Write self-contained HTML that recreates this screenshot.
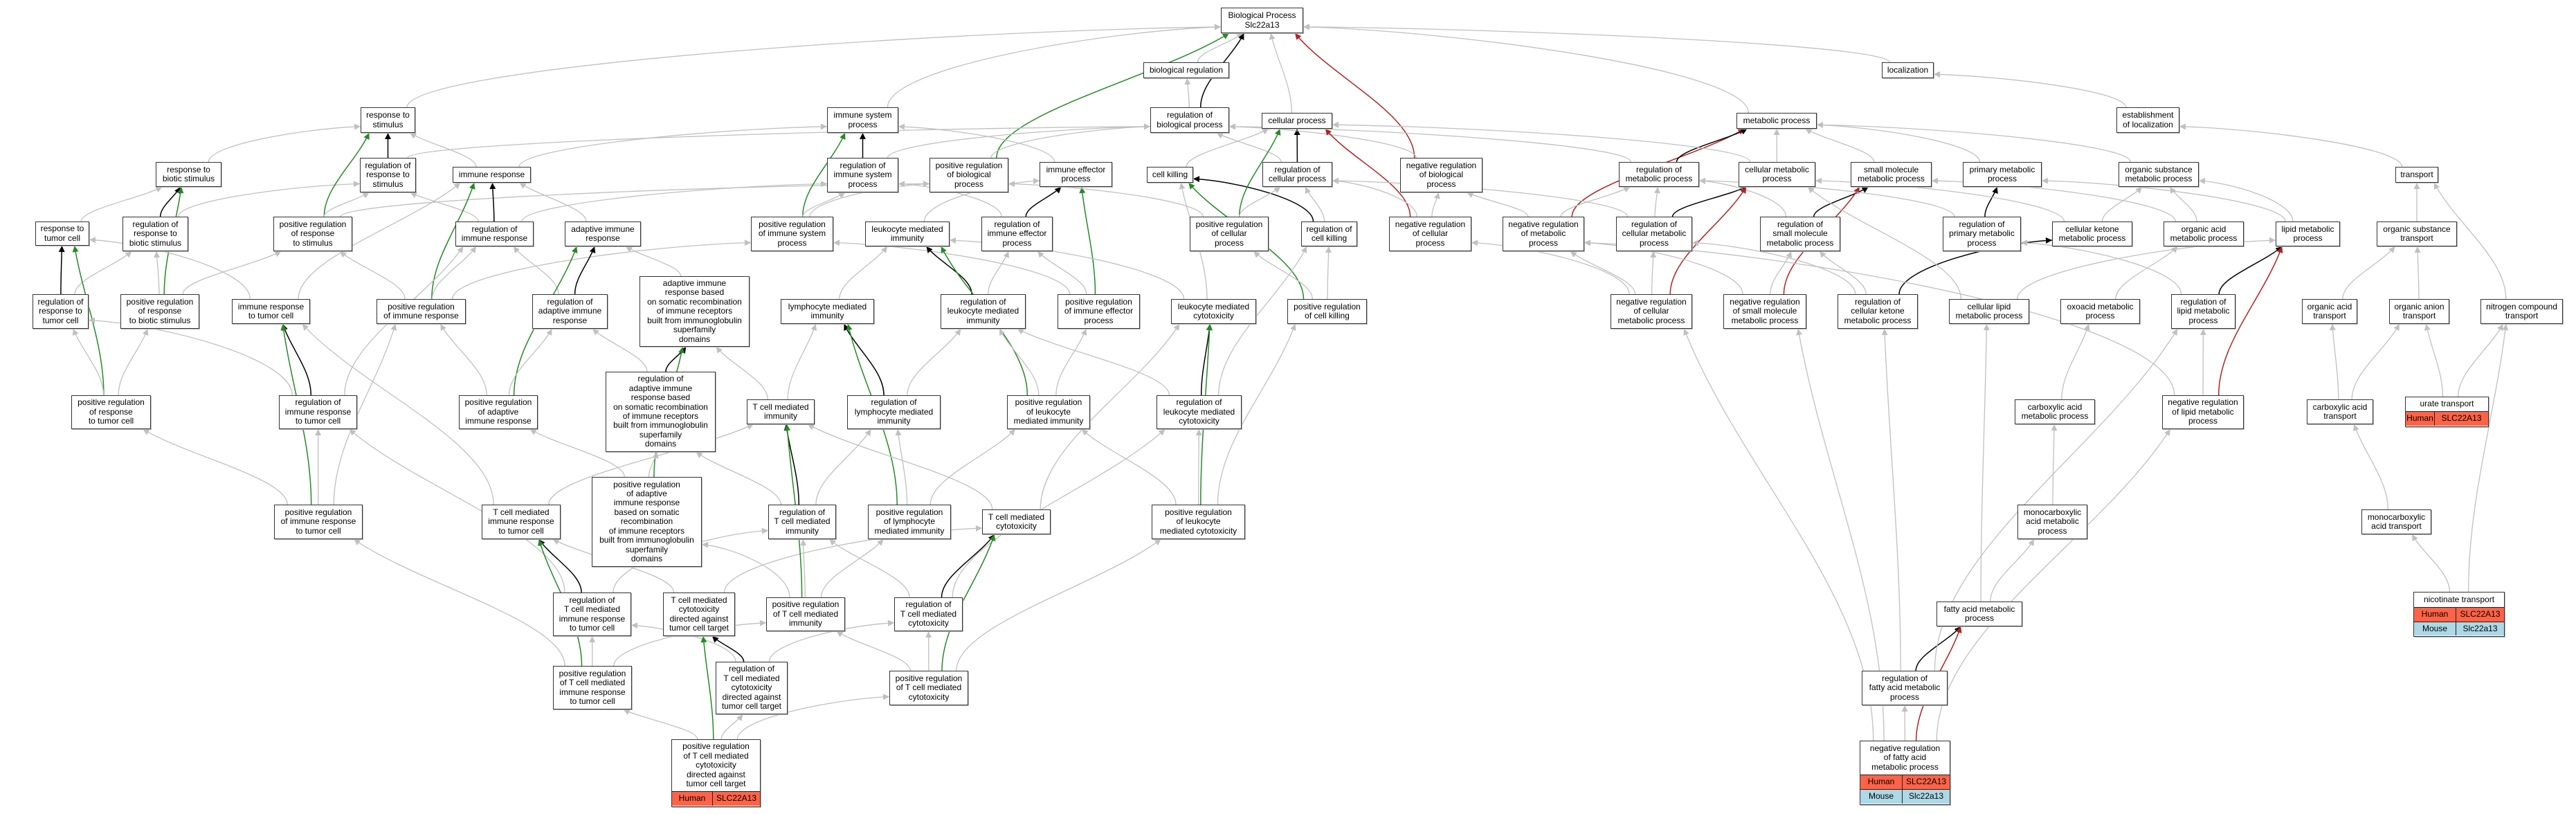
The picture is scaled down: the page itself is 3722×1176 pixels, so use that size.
<!DOCTYPE html>
<html><head><meta charset="utf-8">
<style>
html,body{margin:0;padding:0;background:#fff;}
#wrap{position:relative;width:3722px;height:1176px;overflow:hidden;background:#fff;}
svg{position:absolute;left:0;top:0;}
.n{position:absolute;box-sizing:border-box;border:1.6px solid #333;background:#fff;display:flex;align-items:center;justify-content:center;text-align:center;font-family:"Liberation Sans",Arial,sans-serif;font-size:12px;line-height:13.4px;color:#000;box-shadow:1px 1px 0 #bbb;z-index:2;}
.g{display:block;}
.g .t{display:flex;align-items:center;justify-content:center;}
.g .r{display:flex;border-top:1.6px solid #222;box-sizing:border-box;}
.g .r span{display:flex;align-items:center;justify-content:center;}
.g .r span:first-child{border-right:1.6px solid #222;}
.h{background:#ff6347;}
.m{background:#add8e6;}
</style></head><body><div id="wrap">
<svg id="sv" width="3722" height="1176" xmlns="http://www.w3.org/2000/svg">
<defs>
<marker id="a_g" viewBox="0 0 10 10" refX="10" refY="5" markerWidth="12" markerHeight="9" markerUnits="userSpaceOnUse" orient="auto"><path d="M0,0L10,5L0,10z" fill="#c0c0c0"/></marker>
<marker id="a_k" viewBox="0 0 10 10" refX="10" refY="5" markerWidth="12" markerHeight="9" markerUnits="userSpaceOnUse" orient="auto"><path d="M0,0L10,5L0,10z" fill="#000"/></marker>
<marker id="a_v" viewBox="0 0 10 10" refX="10" refY="5" markerWidth="12" markerHeight="9" markerUnits="userSpaceOnUse" orient="auto"><path d="M0,0L10,5L0,10z" fill="#228b22"/></marker>
<marker id="a_r" viewBox="0 0 10 10" refX="10" refY="5" markerWidth="12" markerHeight="9" markerUnits="userSpaceOnUse" orient="auto"><path d="M0,0L10,5L0,10z" fill="#b22222"/></marker>
</defs>
<g id="eg"></g>
</svg>

<div class="n" id="BP" style="left:1764px;top:11px;width:119px;height:37px">Biological Process<br>Slc22a13</div>
<div class="n" id="bioreg" style="left:1652px;top:90px;width:124px;height:23px">biological regulation</div>
<div class="n" id="loc" style="left:2719px;top:90px;width:75px;height:23px">localization</div>
<div class="n" id="rstim" style="left:521px;top:155px;width:79px;height:37px">response to<br>stimulus</div>
<div class="n" id="isp" style="left:1195px;top:155px;width:103px;height:37px">immune system<br>process</div>
<div class="n" id="rbp" style="left:1662px;top:155px;width:114px;height:37px">regulation of<br>biological process</div>
<div class="n" id="cp" style="left:1823px;top:163px;width:102px;height:23px">cellular process</div>
<div class="n" id="mp" style="left:2509px;top:163px;width:116px;height:23px">metabolic process</div>
<div class="n" id="estloc" style="left:3058px;top:155px;width:91px;height:37px">establishment<br>of localization</div>
<div class="n" id="rbio" style="left:225px;top:234px;width:95px;height:36px">response to<br>biotic stimulus</div>
<div class="n" id="rrs" style="left:520px;top:228px;width:81px;height:50px">regulation of<br>response to<br>stimulus</div>
<div class="n" id="ir" style="left:654px;top:241px;width:113px;height:23px">immune response</div>
<div class="n" id="risp" style="left:1195px;top:228px;width:103px;height:50px">regulation of<br>immune system<br>process</div>
<div class="n" id="prbp" style="left:1343px;top:228px;width:114px;height:50px">positive regulation<br>of biological<br>process</div>
<div class="n" id="iep" style="left:1502px;top:234px;width:105px;height:36px">immune effector<br>process</div>
<div class="n" id="ck" style="left:1657px;top:241px;width:67px;height:23px">cell killing</div>
<div class="n" id="rcp" style="left:1824px;top:234px;width:101px;height:36px">regulation of<br>cellular process</div>
<div class="n" id="nrbp" style="left:2023px;top:228px;width:119px;height:50px">negative regulation<br>of biological<br>process</div>
<div class="n" id="rmp" style="left:2339px;top:234px;width:116px;height:36px">regulation of<br>metabolic process</div>
<div class="n" id="cmp" style="left:2512px;top:234px;width:111px;height:36px">cellular metabolic<br>process</div>
<div class="n" id="smmp" style="left:2674px;top:234px;width:117px;height:36px">small molecule<br>metabolic process</div>
<div class="n" id="pmp" style="left:2836px;top:234px;width:114px;height:36px">primary metabolic<br>process</div>
<div class="n" id="osmp" style="left:3061px;top:234px;width:116px;height:36px">organic substance<br>metabolic process</div>
<div class="n" id="trans" style="left:3461px;top:241px;width:62px;height:23px">transport</div>
<div class="n" id="rtc" style="left:51px;top:320px;width:78px;height:35px">response to<br>tumor cell</div>
<div class="n" id="rrbs" style="left:177px;top:313px;width:95px;height:50px">regulation of<br>response to<br>biotic stimulus</div>
<div class="n" id="prrs" style="left:395px;top:313px;width:114px;height:50px">positive regulation<br>of response<br>to stimulus</div>
<div class="n" id="rir" style="left:658px;top:320px;width:113px;height:36px">regulation of<br>immune response</div>
<div class="n" id="air" style="left:816px;top:320px;width:110px;height:36px">adaptive immune<br>response</div>
<div class="n" id="prisp" style="left:1085px;top:313px;width:119px;height:50px">positive regulation<br>of immune system<br>process</div>
<div class="n" id="lmi" style="left:1250px;top:320px;width:122px;height:36px">leukocyte mediated<br>immunity</div>
<div class="n" id="riep" style="left:1418px;top:313px;width:103px;height:50px">regulation of<br>immune effector<br>process</div>
<div class="n" id="prcp" style="left:1719px;top:313px;width:114px;height:50px">positive regulation<br>of cellular<br>process</div>
<div class="n" id="rck" style="left:1880px;top:320px;width:81px;height:36px">regulation of<br>cell killing</div>
<div class="n" id="nrcp" style="left:2007px;top:313px;width:119px;height:50px">negative regulation<br>of cellular<br>process</div>
<div class="n" id="nrmp" style="left:2171px;top:313px;width:118px;height:50px">negative regulation<br>of metabolic<br>process</div>
<div class="n" id="rcmp" style="left:2335px;top:313px;width:110px;height:50px">regulation of<br>cellular metabolic<br>process</div>
<div class="n" id="rsmmp" style="left:2543px;top:313px;width:116px;height:50px">regulation of<br>small molecule<br>metabolic process</div>
<div class="n" id="rpmp" style="left:2807px;top:313px;width:113px;height:50px">regulation of<br>primary metabolic<br>process</div>
<div class="n" id="ckmp" style="left:2965px;top:320px;width:116px;height:36px">cellular ketone<br>metabolic process</div>
<div class="n" id="oamp" style="left:3126px;top:320px;width:116px;height:36px">organic acid<br>metabolic process</div>
<div class="n" id="lipmp" style="left:3288px;top:320px;width:93px;height:36px">lipid metabolic<br>process</div>
<div class="n" id="ost" style="left:3434px;top:320px;width:116px;height:36px">organic substance<br>transport</div>
<div class="n" id="rrtc" style="left:47px;top:425px;width:81px;height:50px">regulation of<br>response to<br>tumor cell</div>
<div class="n" id="prrbs" style="left:174px;top:425px;width:114px;height:50px">positive regulation<br>of response<br>to biotic stimulus</div>
<div class="n" id="irtc" style="left:335px;top:432px;width:113px;height:36px">immune response<br>to tumor cell</div>
<div class="n" id="prir" style="left:544px;top:432px;width:129px;height:36px">positive regulation<br>of immune response</div>
<div class="n" id="rair" style="left:769px;top:425px;width:109px;height:50px">regulation of<br>adaptive immune<br>response</div>
<div class="n" id="airb" style="left:924px;top:399px;width:159px;height:102px">adaptive immune<br>response based<br>on somatic recombination<br>of immune receptors<br>built from immunoglobulin<br>superfamily<br>domains</div>
<div class="n" id="lymi" style="left:1128px;top:432px;width:135px;height:36px">lymphocyte mediated<br>immunity</div>
<div class="n" id="rlmi" style="left:1359px;top:425px;width:123px;height:50px">regulation of<br>leukocyte mediated<br>immunity</div>
<div class="n" id="prie" style="left:1528px;top:425px;width:119px;height:50px">positive regulation<br>of immune effector<br>process</div>
<div class="n" id="lmc" style="left:1692px;top:432px;width:123px;height:36px">leukocyte mediated<br>cytotoxicity</div>
<div class="n" id="prck" style="left:1860px;top:432px;width:115px;height:36px">positive regulation<br>of cell killing</div>
<div class="n" id="nrcmp" style="left:2327px;top:425px;width:118px;height:50px">negative regulation<br>of cellular<br>metabolic process</div>
<div class="n" id="nrsmmp" style="left:2490px;top:425px;width:120px;height:50px">negative regulation<br>of small molecule<br>metabolic process</div>
<div class="n" id="rckmp" style="left:2655px;top:425px;width:116px;height:50px">regulation of<br>cellular ketone<br>metabolic process</div>
<div class="n" id="clmp" style="left:2816px;top:432px;width:116px;height:36px">cellular lipid<br>metabolic process</div>
<div class="n" id="oxmp" style="left:2977px;top:432px;width:115px;height:36px">oxoacid metabolic<br>process</div>
<div class="n" id="rlipmp" style="left:3137px;top:425px;width:93px;height:50px">regulation of<br>lipid metabolic<br>process</div>
<div class="n" id="oat" style="left:3326px;top:432px;width:80px;height:36px">organic acid<br>transport</div>
<div class="n" id="oant" style="left:3452px;top:432px;width:87px;height:36px">organic anion<br>transport</div>
<div class="n" id="nct" style="left:3584px;top:432px;width:119px;height:36px">nitrogen compound<br>transport</div>
<div class="n" id="rairb" style="left:875px;top:537px;width:159px;height:116px">regulation of<br>adaptive immune<br>response based<br>on somatic recombination<br>of immune receptors<br>built from immunoglobulin<br>superfamily<br>domains</div>
<div class="n" id="prrtc" style="left:103px;top:571px;width:115px;height:49px">positive regulation<br>of response<br>to tumor cell</div>
<div class="n" id="rirtc" style="left:403px;top:571px;width:113px;height:49px">regulation of<br>immune response<br>to tumor cell</div>
<div class="n" id="prair" style="left:663px;top:571px;width:114px;height:49px">positive regulation<br>of adaptive<br>immune response</div>
<div class="n" id="tcmi" style="left:1079px;top:577px;width:98px;height:36px">T cell mediated<br>immunity</div>
<div class="n" id="rlymi" style="left:1224px;top:571px;width:135px;height:49px">regulation of<br>lymphocyte mediated<br>immunity</div>
<div class="n" id="prlmi" style="left:1455px;top:571px;width:120px;height:49px">positive regulation<br>of leukocyte<br>mediated immunity</div>
<div class="n" id="rlmc" style="left:1671px;top:571px;width:123px;height:49px">regulation of<br>leukocyte mediated<br>cytotoxicity</div>
<div class="n" id="camp" style="left:2911px;top:577px;width:116px;height:36px">carboxylic acid<br>metabolic process</div>
<div class="n" id="nrlipmp" style="left:3124px;top:571px;width:118px;height:49px">negative regulation<br>of lipid metabolic<br>process</div>
<div class="n" id="cat" style="left:3333px;top:577px;width:96px;height:36px">carboxylic acid<br>transport</div>
<div class="n g" id="urate" style="left:3475px;top:573px;width:121px;height:44px"><div class="t" style="height:20px">urate transport</div><div class="r h" style="height:21px"><span style="width:41px">Human</span><span style="flex:1">SLC22A13</span></div></div>
<div class="n" id="prairb" style="left:855px;top:689px;width:159px;height:130px">positive regulation<br>of adaptive<br>immune response<br>based on somatic<br>recombination<br>of immune receptors<br>built from immunoglobulin<br>superfamily<br>domains</div>
<div class="n" id="prirtc" style="left:396px;top:729px;width:128px;height:50px">positive regulation<br>of immune response<br>to tumor cell</div>
<div class="n" id="tcmirtc" style="left:696px;top:729px;width:114px;height:50px">T cell mediated<br>immune response<br>to tumor cell</div>
<div class="n" id="rtcmi" style="left:1110px;top:729px;width:98px;height:50px">regulation of<br>T cell mediated<br>immunity</div>
<div class="n" id="prlymi" style="left:1254px;top:729px;width:120px;height:50px">positive regulation<br>of lymphocyte<br>mediated immunity</div>
<div class="n" id="tcmc" style="left:1419px;top:736px;width:99px;height:36px">T cell mediated<br>cytotoxicity</div>
<div class="n" id="prlmc" style="left:1664px;top:729px;width:135px;height:50px">positive regulation<br>of leukocyte<br>mediated cytotoxicity</div>
<div class="n" id="mcamp" style="left:2915px;top:729px;width:101px;height:50px">monocarboxylic<br>acid metabolic<br>process</div>
<div class="n" id="mcat" style="left:3412px;top:736px;width:101px;height:36px">monocarboxylic<br>acid transport</div>
<div class="n" id="rtcmirtc" style="left:799px;top:856px;width:113px;height:63px">regulation of<br>T cell mediated<br>immune response<br>to tumor cell</div>
<div class="n" id="tcmcd" style="left:958px;top:856px;width:104px;height:63px">T cell mediated<br>cytotoxicity<br>directed against<br>tumor cell target</div>
<div class="n" id="prtcmi" style="left:1107px;top:863px;width:114px;height:49px">positive regulation<br>of T cell mediated<br>immunity</div>
<div class="n" id="rtcmc" style="left:1292px;top:863px;width:99px;height:49px">regulation of<br>T cell mediated<br>cytotoxicity</div>
<div class="n" id="famp" style="left:2798px;top:869px;width:124px;height:36px">fatty acid metabolic<br>process</div>
<div class="n g" id="nicot" style="left:3487px;top:855px;width:132px;height:65px"><div class="t" style="height:21px">nicotinate transport</div><div class="r h" style="height:21px"><span style="width:60px">Human</span><span style="flex:1">SLC22A13</span></div><div class="r m" style="height:20px"><span style="width:60px">Mouse</span><span style="flex:1">Slc22a13</span></div></div>
<div class="n" id="prtcmirtc" style="left:799px;top:962px;width:114px;height:63px">positive regulation<br>of T cell mediated<br>immune response<br>to tumor cell</div>
<div class="n" id="rtcmcd" style="left:1034px;top:956px;width:104px;height:76px">regulation of<br>T cell mediated<br>cytotoxicity<br>directed against<br>tumor cell target</div>
<div class="n" id="prtcmc" style="left:1285px;top:969px;width:114px;height:50px">positive regulation<br>of T cell mediated<br>cytotoxicity</div>
<div class="n" id="rfamp" style="left:2690px;top:969px;width:124px;height:50px">regulation of<br>fatty acid metabolic<br>process</div>
<div class="n g" id="prtcmcd" style="left:970px;top:1068px;width:129px;height:98px"><div class="t" style="height:74px">positive regulation<br>of T cell mediated<br>cytotoxicity<br>directed against<br>tumor cell target</div><div class="r h" style="height:21px"><span style="width:58px">Human</span><span style="flex:1">SLC22A13</span></div></div>
<div class="n g" id="nrfamp" style="left:2687px;top:1070px;width:131px;height:93px"><div class="t" style="height:48px">negative regulation<br>of fatty acid<br>metabolic process</div><div class="r h" style="height:21px"><span style="width:60px">Human</span><span style="flex:1">SLC22A13</span></div><div class="r m" style="height:21px"><span style="width:60px">Mouse</span><span style="flex:1">Slc22a13</span></div></div>
</div>
<script>
var E=[
["rstim","BP","g"],["isp","BP","g"],["prbp","BP","v"],["bioreg","BP","g"],["rbp","BP","k"],["cp","BP","g"],["nrbp","BP","r"],["loc","BP","g"],["mp","BP","g"],
["estloc","loc","g"],["trans","estloc","g"],["rbp","bioreg","g"],
["rbio","rstim","g"],["rrs","rstim","k"],["rrs","rbp","g"],["ir","rstim","g"],["ir","isp","g"],
["rtc","rbio","g"],["rrbs","rbio","k"],["rrbs","rrs","g"],["prrs","rstim","v"],["prrs","rrs","g"],["prrs","prbp","g"],
["rir","ir","k"],["rir","rrs","g"],["rir","risp","g"],["air","ir","g"],
["rrtc","rtc","k"],["rrtc","rrbs","g"],["prrbs","rbio","v"],["prrbs","rrbs","g"],["prrbs","prrs","g"],
["irtc","rtc","g"],["irtc","ir","g"],["prir","ir","v"],["prir","rir","g"],["prir","prrs","g"],["prir","prisp","g"],
["rair","air","k"],["rair","rir","g"],["airb","air","g"],
["prrtc","rtc","v"],["prrtc","rrtc","g"],["prrtc","prrbs","g"],
["rirtc","irtc","k"],["rirtc","rrtc","g"],["rirtc","rir","g"],
["prair","air","v"],["prair","rair","g"],["prair","prir","g"],
["rairb","airb","k"],["rairb","rair","g"],
["prirtc","irtc","v"],["prirtc","rirtc","g"],["prirtc","prir","g"],["prirtc","prrtc","g"],
["tcmirtc","irtc","g"],["tcmirtc","tcmi","g"],
["prairb","airb","v"],["prairb","prair","g"],["prairb","rairb","g"],
["rtcmirtc","tcmirtc","k"],["rtcmirtc","rirtc","g"],["rtcmirtc","rtcmi","g"],
["prtcmirtc","tcmirtc","v"],["prtcmirtc","rtcmirtc","g"],["prtcmirtc","prirtc","g"],["prtcmirtc","prtcmi","g"],
["risp","isp","k"],["risp","rbp","g"],["prbp","rbp","g"],["iep","isp","g"],
["prisp","isp","v"],["prisp","risp","g"],["prisp","prbp","g"],
["lmi","iep","g"],["riep","iep","k"],["riep","risp","g"],
["prie","iep","v"],["prie","riep","g"],["prie","prisp","g"],
["lymi","lmi","g"],["rlmi","lmi","k"],["rlmi","riep","g"],
["prlmi","lmi","v"],["prlmi","rlmi","g"],["prlmi","prie","g"],
["lmc","ck","g"],["lmc","lmi","g"],["ck","cp","g"],
["rck","ck","k"],["rck","rcp","g"],["prck","ck","v"],["prck","rck","g"],["prck","prcp","g"],
["rcp","cp","k"],["rcp","rbp","g"],["prcp","cp","v"],["prcp","rcp","g"],["prcp","prbp","g"],
["nrbp","rbp","g"],["nrcp","cp","r"],["nrcp","rcp","g"],["nrcp","nrbp","g"],
["nrmp","mp","r"],["nrmp","rmp","g"],["nrmp","nrbp","g"],
["rmp","mp","k"],["rmp","rbp","g"],["cmp","mp","g"],["cmp","cp","g"],["smmp","mp","g"],["pmp","mp","g"],["osmp","mp","g"],
["rcmp","cmp","k"],["rcmp","rmp","g"],["rcmp","rcp","g"],
["rsmmp","smmp","k"],["rsmmp","rmp","g"],
["nrcmp","cmp","r"],["nrcmp","rcmp","g"],["nrcmp","nrmp","g"],["nrcmp","nrcp","g"],
["nrsmmp","smmp","r"],["nrsmmp","rsmmp","g"],["nrsmmp","nrmp","g"],
["rckmp","ckmp","k"],["rckmp","rsmmp","g"],["rckmp","rcmp","g"],
["rpmp","pmp","k"],["rpmp","rmp","g"],
["ckmp","cmp","g"],["ckmp","osmp","g"],
["oamp","osmp","g"],["oamp","smmp","g"],
["lipmp","osmp","g"],["lipmp","pmp","g"],
["clmp","lipmp","g"],["clmp","cmp","g"],
["oxmp","oamp","g"],
["rlipmp","lipmp","k"],["rlipmp","rpmp","g"],
["nrlipmp","lipmp","r"],["nrlipmp","rlipmp","g"],["nrlipmp","nrmp","g"],
["camp","oxmp","g"],["mcamp","camp","g"],["famp","mcamp","g"],["famp","clmp","g"],
["rfamp","famp","k"],["rfamp","rlipmp","g"],["rfamp","rckmp","g"],
["nrfamp","famp","r"],["nrfamp","rfamp","g"],["nrfamp","nrlipmp","g"],["nrfamp","nrcmp","g"],["nrfamp","nrsmmp","g"],
["ost","trans","g"],["oat","ost","g"],["oant","ost","g"],["nct","trans","g"],
["cat","oat","g"],["cat","oant","g"],["urate","oant","g"],["urate","nct","g"],
["mcat","cat","g"],["nicot","mcat","g"],["nicot","nct","g"],
["tcmi","lymi","g"],["tcmi","airb","g"],
["rlymi","lymi","k"],["rlymi","rlmi","g"],
["rlmc","lmc","k"],["rlmc","rlmi","g"],["rlmc","rck","g"],
["rtcmi","tcmi","k"],["rtcmi","rlymi","g"],["rtcmi","rairb","g"],
["prlymi","lymi","v"],["prlymi","rlymi","g"],["prlymi","prlmi","g"],
["tcmc","tcmi","g"],["tcmc","lmc","g"],
["prlmc","lmc","v"],["prlmc","rlmc","g"],["prlmc","prlmi","g"],["prlmc","prck","g"],
["tcmcd","tcmirtc","g"],["tcmcd","tcmc","g"],
["prtcmi","tcmi","v"],["prtcmi","rtcmi","g"],["prtcmi","prlymi","g"],["prtcmi","prairb","g"],
["rtcmc","tcmc","k"],["rtcmc","rtcmi","g"],["rtcmc","rlmc","g"],
["rtcmcd","tcmcd","k"],["rtcmcd","rtcmc","g"],["rtcmcd","rtcmirtc","g"],
["prtcmc","tcmc","v"],["prtcmc","rtcmc","g"],["prtcmc","prtcmi","g"],["prtcmc","prlmc","g"],
["prtcmcd","tcmcd","v"],["prtcmcd","rtcmcd","g"],["prtcmcd","prtcmc","g"],["prtcmcd","prtcmirtc","g"]
];
var col={g:"#c0c0c0",k:"#000",v:"#228b22",r:"#b22222"};
function R(id){var e=document.getElementById(id);return{x:e.offsetLeft,y:e.offsetTop,w:e.offsetWidth,h:e.offsetHeight};}
var g=document.getElementById("eg"),s="";
function f(v){return v.toFixed(1);}
E.forEach(function(e){
 var a=R(e[0]),b=R(e[1]);
 var acx=a.x+a.w/2,bcx=b.x+b.w/2;
 var sx,sy,tx,ty,c1x,c1y,c2x,c2y;
 var gap=a.y-(b.y+b.h);
 var dx=acx-bcx;
 if(gap>0 && Math.abs(dx)>3*gap+b.w/2){
  // attach to parent side
  sx=acx+Math.max(-a.w*0.35,Math.min(a.w*0.35,-dx*0.1));sy=a.y;
  ty=b.y+b.h*0.75;
  tx=dx>0?b.x+b.w:b.x;
  var dy=sy-ty;
  c1x=sx;c1y=sy-dy*0.5;
  c2x=tx+(sx-tx)*0.35;c2y=ty+dy*0.05;
 } else if(gap>0){
  sx=acx+Math.max(-a.w*0.35,Math.min(a.w*0.35,-dx*0.15));sy=a.y;
  tx=bcx+Math.max(-b.w*0.4,Math.min(b.w*0.4,dx*0.25));ty=b.y+b.h;
  var dy=sy-ty;
  c1x=sx;c1y=sy-dy*0.35;c2x=tx+(sx-tx)*0.3;c2y=ty+dy*0.35;
 } else {
  sy=a.y+a.h/2;ty=b.y+b.h/2;
  if(acx<bcx){sx=a.x+a.w;tx=b.x;}else{sx=a.x;tx=b.x+b.w;}
  c1x=sx+(tx-sx)*0.35;c1y=sy;c2x=tx-(tx-sx)*0.25;c2y=ty;
 }
 var w=e[2]=="g"?1.3:1.5;
 s+='<path d="M'+f(sx)+','+f(sy)+' C'+f(c1x)+','+f(c1y)+' '+f(c2x)+','+f(c2y)+' '+f(tx)+','+f(ty)+'" fill="none" stroke="'+col[e[2]]+'" stroke-width="'+w+'" marker-end="url(#a_'+e[2]+')"/>';
});
g.innerHTML=s;
</script>
</body></html>
